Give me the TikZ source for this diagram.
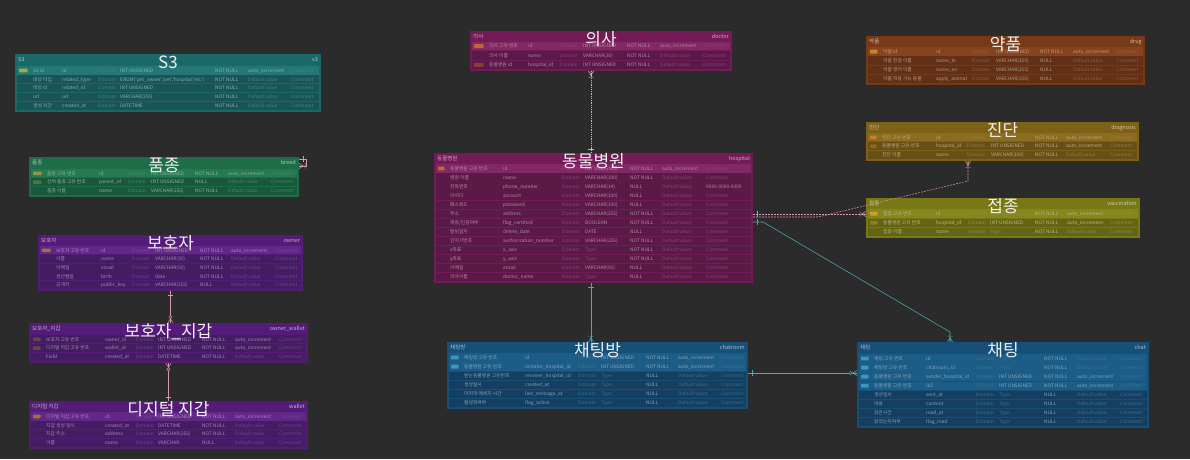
\documentclass[tikz,border=0pt]{standalone}
\usepackage{fontspec}
\setmainfont{Noto Sans CJK KR}
\usepackage{tikz}

% table colours: header / body / key row / key icon
\definecolor{bgc}{RGB}{43,43,43}
\definecolor{s3h}{RGB}{27,104,105}\definecolor{s3b}{RGB}{25,84,86}\definecolor{s3p}{RGB}{36,119,118}\definecolor{s3k}{RGB}{160,170,70}
\definecolor{brh}{RGB}{29,110,72}\definecolor{brb}{RGB}{25,88,58}\definecolor{brp}{RGB}{38,122,82}\definecolor{brk}{RGB}{150,150,70}
\definecolor{owh}{RGB}{84,28,120}\definecolor{owb}{RGB}{68,28,98}\definecolor{owp}{RGB}{98,40,136}\definecolor{owk}{RGB}{170,110,60}
\definecolor{hph}{RGB}{116,26,88}\definecolor{hpb}{RGB}{90,26,72}\definecolor{hpp}{RGB}{130,40,100}\definecolor{hpk}{RGB}{190,105,50}
\definecolor{drh}{RGB}{120,58,22}\definecolor{drb}{RGB}{97,48,22}\definecolor{drp}{RGB}{134,68,30}\definecolor{drk}{RGB}{200,130,50}
\definecolor{dgh}{RGB}{126,96,22}\definecolor{dgb}{RGB}{103,79,22}\definecolor{dgp}{RGB}{140,108,30}\definecolor{dgk}{RGB}{200,130,40}
\definecolor{vch}{RGB}{120,120,20}\definecolor{vcb}{RGB}{100,100,20}\definecolor{vcp}{RGB}{134,134,30}\definecolor{vck}{RGB}{200,160,40}
\definecolor{cth}{RGB}{22,80,120}\definecolor{ctb}{RGB}{20,63,96}\definecolor{ctp}{RGB}{28,93,135}\definecolor{ctk}{RGB}{60,150,190}
\definecolor{linkpink}{RGB}{214,152,178}
\definecolor{linkteal}{RGB}{80,168,178}
\definecolor{linkpale}{RGB}{205,185,195}

\newcommand{\setcols}[9]{\def\colI{#1}\def\colK{#2}\def\colE{#3}\def\colD{#4}\def\colT{#5}\def\colN{#6}\def\colA{#7}\def\colC{#8}\def\colZ{#9}}
\newcommand{\tblcolors}[1]{\colorlet{hc}{#1h}\colorlet{bc}{#1b}\colorlet{pc}{#1p}\colorlet{keyc}{#1k}%
  \colorlet{txtc}{white!48!#1h}\colorlet{dimc}{white!18!#1h}\colorlet{lblc}{white!64!#1h}}
\newcommand{\typ}{\textcolor{dimc}{Type}}

% frame of a table: name, left, top, right, bottom, korean label, english label
\newcommand{\erdtable}[7]{%
  \node[frame, fill=hc, minimum width={#4-#2}, minimum height={#5-#3}] (#1) at ({(#2+#4)/2},{(#3+#5)/2}) {};
  \node[lbl, anchor=base west] (#1-kr) at (#2+3,#3+7.5) {#6};
  \node[lbl, anchor=base east] (#1-en) at (#4-3,#3+7.5) {#7};
}
% rows of a table: name, top, row height, rows
\newcommand{\erdrows}[4]{%
  \foreach \ky/\kn/\en/\ty/\nl/\df/\cm [count=\i from 0] in {#4} {
    \pgfmathsetmacro\ya{#2+\i*#3}
    \pgfmathsetmacro\yb{\ya+#3}
    \pgfmathsetmacro\yt{\ya+#3/2+1.7}
    \if P\ky \colorlet{cellc}{pc}\else \colorlet{cellc}{bc}\fi
    \foreach \xa/\xb in {\colI/\colK,\colK/\colE,\colE/\colD,\colD/\colT,\colT/\colN,\colN/\colA,\colA/\colC,\colC/\colZ}
      \fill[cellc] (\xa+0.35,\ya+0.35) rectangle (\xb-0.35,\yb-0.35);
    \if N\ky \else
      \if F\ky \colorlet{kc}{keyc!45!bc}\else \colorlet{kc}{keyc}\fi
      \fill[kc, rounded corners=0.8pt] (\colI+2.5,\ya+2.6) rectangle (\colK-2.5,\yb-2.6);
    \fi
    \node[cell] (#1-\i-kn) at (\colK+3,\yt) {\kn};
    \node[cell] (#1-\i-en) at (\colE+3,\yt) {\en};
    \node[cell, text=dimc] (#1-\i-dm) at (\colD+3,\yt) {Domain};
    \node[cell] (#1-\i-ty) at (\colT+3,\yt) {\ty};
    \node[cell] (#1-\i-nl) at (\colN+3,\yt) {\nl};
    \if A\df \node[cell] (#1-\i-df) at (\colA+3,\yt) {auto\_increment};
    \else \node[cell, text=dimc] (#1-\i-df) at (\colA+3,\yt) {Default value};\fi
    \if X\cm \node[cell] (#1-\i-cm) at (\colC+3,\yt) {0000-0000-0000};
    \else \node[cell, text=dimc] (#1-\i-cm) at (\colC+3,\yt) {Comment};\fi
  }
}
\newcommand{\erdtitle}[2]{\node[bigtitle] (#1-title) at ([yshift=-14pt]#1.north) {#2};}

\tikzset{
  frame/.style={inner sep=0pt, outer sep=0pt},
  lbl/.style={inner sep=0pt, text=lblc, font=\fontsize{5.5}{6}\selectfont},
  cell/.style={inner sep=0pt, anchor=base west, text=txtc, font=\fontsize{4.8}{5}\selectfont},
  bigtitle/.style={inner sep=0pt, anchor=base, text=white!94!black, font=\fontsize{17}{18}\selectfont},
  relpink/.style={draw=linkpink, line width=0.55pt},
  reldash/.style={relpink, dash pattern=on 1.8pt off 1.2pt},
  relteal/.style={draw=linkteal, line width=0.55pt},
  reldot/.style={draw=linkpale, line width=0.5pt, dash pattern=on 0.8pt off 1pt},
  onemark/.pic={\draw (-4,-2.6) -- (-4,2.6);},
  manymark/.pic={\draw (0,-2.6) -- (-4.5,0) -- (0,2.6) (0,0) -- (-4.5,0); \filldraw[fill=bgc] (-6.3,0) circle (1.6);},
  manybar/.pic={\draw (0,-2.6) -- (-4.5,0) -- (0,2.6) (0,0) -- (-4.5,0) (-6,-2.6) -- (-6,2.6);},
}

\begin{document}
\begin{tikzpicture}[x=1pt, y=-1pt]
\fill[bgc] (0,0) rectangle (1190,459);
\useasboundingbox (0,0) rectangle (1190,459);

% S3
\tblcolors{s3}
\setcols{16.5}{30}{59}{95}{117}{212}{245}{288}{319.5}
\erdtable{s3}{15}{54}{321}{112}{S3}{s3}
\erdrows{s3}{66}{8.9}{P/S3 id/id/INT UNSIGNED/NOT NULL/A/C,
  N/대상 타입/related\_type/{ENUM('pet\_owner','pet','hospital','etc')}/NOT NULL/D/C,
  N/대상 id/related\_id/INT UNSIGNED/NOT NULL/D/C,
  N/url/url/VARCHAR(255)/NOT NULL/D/C,
  N/생성 시간/created\_at/DATETIME/NOT NULL/D/C}
\erdtitle{s3}{S3}

% breed
\tblcolors{br}
\setcols{30.5}{44}{96}{125}{148}{192}{225}{268}{297.5}
\erdtable{breed}{29}{157}{299}{197}{품종}{breed}
\erdrows{breed}{169}{8.83}{P/품종 고유 번호/id/INT UNSIGNED/NOT NULL/A/C,
  F/상위 품종 고유 번호/parent\_id/INT UNSIGNED/NULL/D/C,
  N/품종 이름/name/VARCHAR(255)/NOT NULL/D/C}
\erdtitle{breed}{품종}

% owner
\tblcolors{ow}
\setcols{39.5}{53}{98}{129}{152}{197}{228}{272}{301.5}
\erdtable{owner}{38}{235}{303}{291}{보호자}{owner}
\erdrows{owner}{246}{8.7}{P/보호자 고유 번호/id/INT UNSIGNED/NOT NULL/A/C,
  N/이름/name/VARCHAR(30)/NOT NULL/D/C,
  N/이메일/email/VARCHAR(50)/NOT NULL/D/C,
  N/생년월일/birth/date/NOT NULL/D/C,
  N/공개키/public\_key/VARCHAR(255)/NULL/D/C}
\erdtitle{owner}{보호자}

% owner_wallet
\setcols{30.5}{43}{102}{133}{155}{199}{232}{276}{306.5}
\erdtable{ownerwallet}{29}{323}{308}{363}{보호자\_지갑}{owner\_wallet}
\erdrows{ownerwallet}{335}{8.83}{F/보호자 고유 번호/owner\_id/INT UNSIGNED/NOT NULL/A/C,
  F/디지털 지갑 고유 번호/wallet\_id/INT UNSIGNED/NOT NULL/A/C,
  N/Field/created\_at/DATETIME/NOT NULL/D/C}
\erdtitle{ownerwallet}{보호자\_지갑}

% wallet
\erdtable{wallet}{29}{401}{308}{449}{디지털 지갑}{wallet}
\erdrows{wallet}{412}{8.875}{P/디지털 지갑 고유 번호/id/INT UNSIGNED/NOT NULL/A/C,
  N/지갑 생성 일시/created\_at/DATETIME/NOT NULL/D/C,
  N/지갑 주소/address/VARCHAR(255)/NOT NULL/D/C,
  N/이름/name/VARCHAR/NULL/D/C}
\erdtitle{wallet}{디지털 지갑}

% doctor
\tblcolors{hp}
\setcols{471.5}{486}{525}{557}{580}{624}{657}{700}{730.5}
\erdtable{doctor}{470}{31}{732}{71}{의사}{doctor}
\erdrows{doctor}{41.5}{9.33}{P/의사 고유 번호/id/INT UNSIGNED/NOT NULL/A/C,
  N/의사 이름/name/VARCHAR(30)/NOT NULL/D/C,
  F/동물병원 id/hospital\_id/INT UNSIGNED/NOT NULL/D/C}
\erdtitle{doctor}{의사}

% hospital
\setcols{435.5}{447}{500}{559}{582}{627}{659}{703}{751.5}
\erdtable{hospital}{434}{153}{753}{283}{동물병원}{hospital}
\erdrows{hospital}{164}{9.04}{P/동물병원 고유 번호/id/INT UNSIGNED/NOT NULL/A/C,
  N/병원 이름/name/VARCHAR(100)/NOT NULL/D/C,
  N/전화번호/phone\_number/VARCHAR(14)/NULL/D/X,
  N/아이디/account/VARCHAR(100)/NULL/D/C,
  N/패스워드/password/VARCHAR(100)/NULL/D/C,
  N/주소/address/VARCHAR(255)/NOT NULL/D/C,
  N/{제휴/인증여부}/flag\_certified/BOOLEAN/NOT NULL/D/C,
  N/탈퇴일자/delete\_date/DATE/NULL/D/C,
  N/인허가번호/authorization\_number/VARCHAR(255)/NOT NULL/D/C,
  N/x좌표/x\_axis/\typ/NOT NULL/D/C,
  N/y좌표/y\_axis/\typ/NOT NULL/D/C,
  N/이메일/email/VARCHAR(50)/NULL/D/C,
  N/의사이름/doctor\_name/\typ/NULL/D/C}
\erdtitle{hospital}{동물병원}

% drug
\tblcolors{dr}
\setcols{867.5}{880}{933}{969}{993}{1037}{1070}{1113}{1143.5}
\erdtable{drug}{866}{36}{1145}{85}{약품}{drug}
\erdrows{drug}{47}{9.12}{P/약품 id/id/INT UNSIGNED/NOT NULL/A/C,
  N/약품 한글 이름/name\_kr/VARCHAR(255)/NULL/D/C,
  N/약품 영어 이름/name\_en/VARCHAR(255)/NULL/D/C,
  N/약품 적용 가능 동물/apply\_animal/VARCHAR(255)/NULL/D/C}
\erdtitle{drug}{약품}

% diagnosis
\tblcolors{dg}
\setcols{867.5}{879}{933}{964}{988}{1032}{1063}{1107}{1137.5}
\erdtable{diagnosis}{866}{122}{1139}{161}{진단}{diagnosis}
\erdrows{diagnosis}{133}{8.83}{P/진단 고유 번호/id/\typ/NOT NULL/A/C,
  F/동물병원 고유 번호/hospital\_id/INT UNSIGNED/NOT NULL/A/C,
  N/진단 이름/name/VARCHAR(100)/NOT NULL/D/C}
\erdtitle{diagnosis}{진단}

% vaccination
\tblcolors{vc}
\setcols{867.5}{880}{933}{965}{987}{1032}{1064}{1107}{1138.5}
\erdtable{vaccination}{866}{198}{1140}{238}{접종}{vaccination}
\erdrows{vaccination}{209}{9.17}{P/접종 고유 번호/id/\typ/NOT NULL/A/C,
  F/동물병원 고유 번호/hospital\_id/INT UNSIGNED/NOT NULL/A/C,
  N/접종 이름/name/\typ/NOT NULL/D/C}
\erdtitle{vaccination}{접종}

% chatroom
\tblcolors{ct}
\setcols{448.5}{461}{522}{575}{598}{643}{675}{718}{746.5}
\erdtable{chatroom}{447}{342}{748}{409}{채팅방}{chatroom}
\erdrows{chatroom}{353}{9.08}{P/채팅방 고유 번호/id/INT UNSIGNED/NOT NULL/A/C,
  P/동물병원 고유 번호/initiator\_hospital\_id/INT UNSIGNED/NOT NULL/A/C,
  N/받는동물병원 고유번호/receiver\_hospital\_id/\typ/NULL/D/C,
  N/생성일시/created\_at/\typ/NULL/D/C,
  N/마지막 메세지 시간/last\_message\_at/\typ/NULL/D/C,
  N/활성화여부/flag\_active/\typ/NULL/D/C}
\erdtitle{chatroom}{채팅방}

% chat
\setcols{858.5}{871}{923}{973}{996}{1041}{1074}{1117}{1147.5}
\erdtable{chat}{857}{342}{1149}{428}{채팅}{chat}
\erdrows{chat}{354}{9.06}{P/채팅 고유 번호/id/\typ/NOT NULL/D/C,
  P/채팅방 고유 번호/chatroom\_id/\typ/NOT NULL/D/C,
  P/동물병원 고유 번호/sender\_hospital\_id/INT UNSIGNED/NOT NULL/A/C,
  P/동물병원 고유 번호/id2/INT UNSIGNED/NOT NULL/A/C,
  N/생성일시/sent\_at/\typ/NULL/D/C,
  N/내용/content/\typ/NULL/D/C,
  N/읽은시간/read\_at/\typ/NULL/D/C,
  N/읽었는지여부/flag\_read/\typ/NULL/D/C}
\erdtitle{chat}{채팅}

% relations
\coordinate (vline) at (591,0);
\coordinate (cr-y) at (0,373);
\coordinate (vac-in) at ([yshift=4pt]vaccination.west);
\coordinate (hd-out) at ([yshift=1pt]hospital.east);
\coordinate (dg-in) at ([xshift=-34.5pt]diagnosis.south);
\coordinate (dg-bend) at ([yshift=-20pt]dg-in);
\coordinate (hc-out) at ([yshift=-4pt]hospital.east);
\coordinate (ct-in) at ([xshift=-53pt]chat.north);
\coordinate (ct-bend) at ([yshift=10pt]ct-in);
\coordinate (br-a) at ([yshift=-2pt]breed.north east);
\coordinate (br-b) at ([yshift=-9pt]breed.north east);

\draw[relpink] (owner.south) -- (owner.south |- ownerwallet.north);
\pic[color=linkpink, line width=0.5pt, rotate=90] at (owner.south) {onemark};
\pic[color=linkpink, line width=0.5pt, rotate=-90] at (owner.south |- ownerwallet.north) {manymark};

\draw[relpink] (ownerwallet.south) -- (wallet.north);
\pic[color=linkpink, line width=0.5pt, rotate=90] at (ownerwallet.south) {manymark};
\pic[color=linkpink, line width=0.5pt, rotate=-90] at (wallet.north) {onemark};

\draw[reldot] (doctor.south -| vline) -- (hospital.north -| vline);
\pic[color=linkpale, line width=0.5pt, rotate=90] at (doctor.south -| vline) {manybar};
\pic[color=linkpale, line width=0.5pt, rotate=-90] at (hospital.north -| vline) {onemark};

\draw[relteal] (hospital.south -| vline) -- (chatroom.north -| vline);
\pic[color=linkteal, line width=0.5pt, rotate=90] at (hospital.south -| vline) {onemark};
\pic[color=linkteal, line width=0.5pt, rotate=-90] at (chatroom.north -| vline) {manybar};

\draw[relteal] (chatroom.east |- cr-y) -- (chat.west |- cr-y);
\pic[color=linkteal, line width=0.5pt, rotate=180] at (chatroom.east |- cr-y) {onemark};
\pic[color=linkteal, line width=0.5pt] at (chat.west |- cr-y) {manymark};

\draw[relteal] (hc-out) -- ++(10,0) -- (ct-bend) -- (ct-in);
\pic[color=linkteal, line width=0.5pt, rotate=180] at (hc-out) {onemark};
\pic[color=linkteal, line width=0.5pt, rotate=-90] at (ct-in) {manybar};

\draw[reldash] (hospital.east |- vac-in) -- (vac-in);
\pic[color=linkpink, line width=0.5pt, rotate=180] at (hospital.east |- vac-in) {onemark};
\pic[color=linkpink, line width=0.5pt] at (vac-in) {manybar};

\draw[reldash] (hd-out) -- ++(65,0) -- (dg-bend) -- (dg-in);
\pic[color=linkpink, line width=0.5pt, rotate=90] at (dg-in) {manybar};

\draw[relpink] (br-a) -- ++(7,0) -- ++(0,7) -- (br-b);
\pic[color=linkpink, line width=0.5pt, rotate=180] at (br-a) {onemark};
\pic[color=linkpink, line width=0.5pt, rotate=180] at (br-b) {manybar};
\end{tikzpicture}
\end{document}
